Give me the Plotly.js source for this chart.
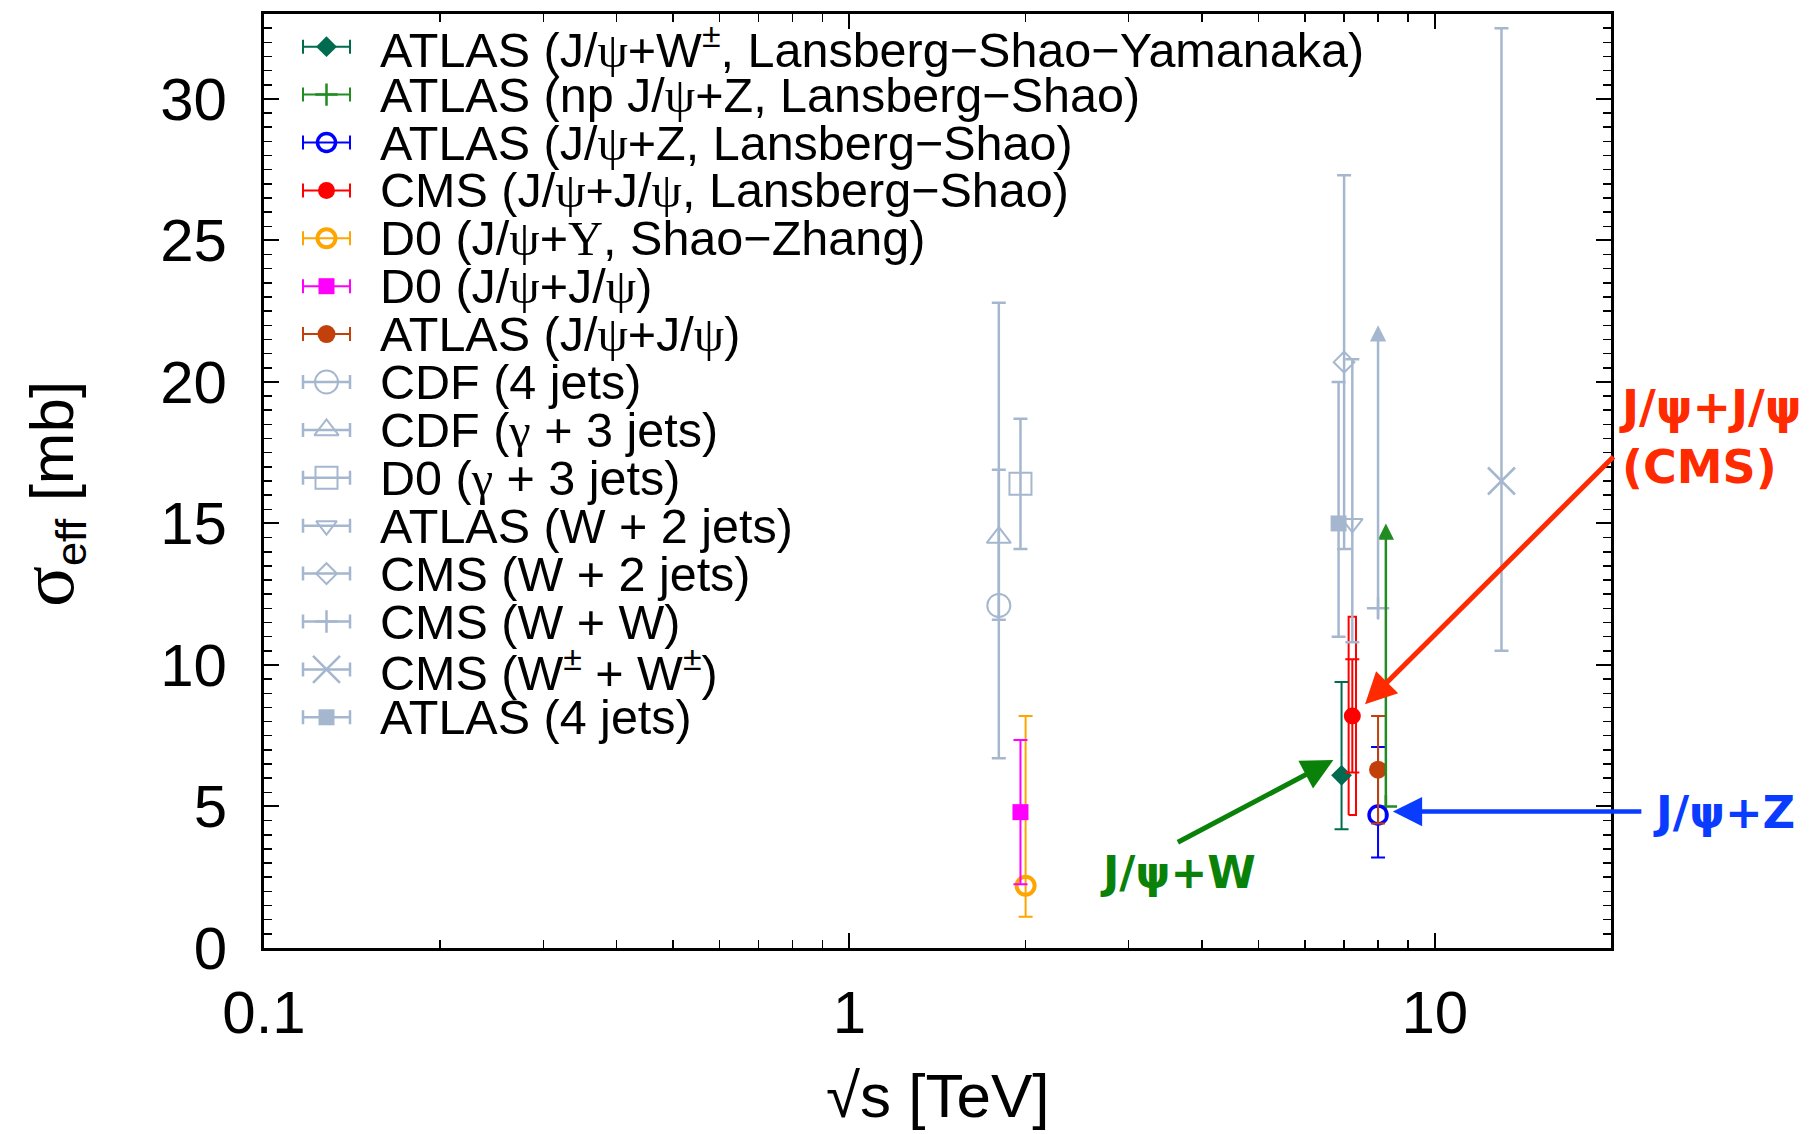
<!DOCTYPE html>
<html><head><meta charset="utf-8">
<script src="https://cdn.plot.ly/plotly-3.0.1.min.js"></script>
<style>html,body{margin:0;padding:0;background:#fff}#chart{width:1812px;height:1134px}</style>
</head><body><div id="chart"></div><script>
const PSI = '<span style="font-family:Liberation Serif">ψ</span>';
const GAM = '<span style="font-family:Liberation Serif">γ</span>';
const UPS = '<span style="font-family:Liberation Serif">Υ</span>';

// ---- data ----
const seriesNames = [
  `ATLAS (J/${PSI}+W<sup>±</sup>, Lansberg−Shao−Yamanaka)`,
  `ATLAS (np J/${PSI}+Z, Lansberg−Shao)`,
  `ATLAS (J/${PSI}+Z, Lansberg−Shao)`,
  `CMS (J/${PSI}+J/${PSI}, Lansberg−Shao)`,
  `D0 (J/${PSI}+${UPS}, Shao−Zhang)`,
  `D0 (J/${PSI}+J/${PSI})`,
  `ATLAS (J/${PSI}+J/${PSI})`,
  `CDF (4 jets)`,
  `CDF (${GAM} + 3 jets)`,
  `D0 (${GAM} + 3 jets)`,
  `ATLAS (W + 2 jets)`,
  `CMS (W + 2 jets)`,
  `CMS (W + W)`,
  `CMS (W<sup>±</sup> + W<sup>±</sup>)`,
  `ATLAS (4 jets)`
];
const sqrtS    = [6.93, 8.25, 8.0, 7.23, 2.0, 1.96, 8.0, 1.8, 1.8, 1.96, 7.23, 7.0, 8.0, 13.0, 6.85];
const sigmaEff = [6.1, 5.0, 4.7, 8.2, 2.2, 4.8, 6.3, 12.1, 14.5, 16.4, 15.0, 20.7, 12.0, 16.5, 15.0];
const errUp    = [3.3, 0, 2.4, 2.0, 6.0, 2.55, 1.9, 10.7, 2.4, 2.3, 5.8, 6.6, 0, 16.0, 5.0];
const errDown  = [1.9, 0, 1.5, 2.0, 1.1, 2.55, 1.9, 5.4, 2.9, 2.3, 4.2, 6.6, 0, 6.0, 4.0];
// lower limits drawn as arrows
const limitFrom = [null, 5.0, null, null, null, null, null, null, null, null, null, null, 11.6, null, null];
const limitTo   = [null, 15.0, null, null, null, null, null, null, null, null, null, null, 22.0, null, null];
// CMS J/psi+J/psi total uncertainty (box)
const cmsTotalErrUp = 3.5;
const cmsTotalErrDown = 3.5;
const cmsIndex = 3;

// callout labels
const calloutTexts = ['J/ψ+J/ψ<br>(CMS)', 'J/ψ+Z', 'J/ψ+W'];

// ---- styles ----
const GRAY = '#A5B7CF';
const colors = ['#006B4F', '#228B22', '#0000FF', '#FF0000', '#FFA500', '#FF00FF', '#C2410A',
  GRAY, GRAY, GRAY, GRAY, GRAY, GRAY, GRAY, GRAY];
const symbols = ['diamond', 'cross-thin-open', 'circle-open', 'circle', 'circle-open', 'square', 'circle',
  'circle-open', 'triangle-up-open', 'square-open', 'triangle-down-open', 'diamond-open', 'cross-thin-open', 'x-thin-open', 'square'];
const sizes = [16, 16, 18, 17, 18, 16, 18, 23, 21, 22, 18, 16, 16, 27, 16];
const mlw   = [0, 2.5, 3.5, 0, 4, 0, 0, 2, 2, 2, 2, 2, 2.5, 2.5, 0];
const ebw   = [2, 2, 2, 2, 2, 2, 2, 2.5, 2.5, 2.5, 2.5, 2.5, 2.5, 2.5, 2.5];

const traces = [];
const annotations = [];

// CMS box (total uncertainty)
{
  const xc = sqrtS[cmsIndex], yc = sigmaEff[cmsIndex];
  const f = Math.pow(10, 0.0063);
  const xl = xc / f, xr = xc * f;
  const lo = yc - cmsTotalErrDown, hi = yc + cmsTotalErrUp;
  traces.push({x: [xl, xr, xr, xl, xl], y: [lo, lo, hi, hi, lo], mode: 'lines', type: 'scatter',
    line: {color: colors[cmsIndex], width: 2}, showlegend: false, hoverinfo: 'skip'});
}

for (let i = 0; i < seriesNames.length; i++) {
  const hasErr = errUp[i] > 0 || errDown[i] > 0;
  traces.push({
    x: [sqrtS[i]], y: [sigmaEff[i]], type: 'scatter', mode: 'markers', name: seriesNames[i],
    showlegend: false,
    marker: {symbol: symbols[i], size: sizes[i], color: colors[i], line: {color: colors[i], width: mlw[i]}},
    error_y: hasErr ? {type: 'data', symmetric: false, array: [errUp[i]], arrayminus: [errDown[i]],
      color: colors[i], thickness: ebw[i], width: 7} : {visible: false}
  });
  if (limitFrom[i] !== null) {
    annotations.push({x: Math.log10(sqrtS[i]), y: limitTo[i], ax: Math.log10(sqrtS[i]), ay: limitFrom[i],
      xref: 'x', yref: 'y', axref: 'x', ayref: 'y', text: '', showarrow: true,
      arrowhead: 2, arrowsize: 1.3, arrowwidth: 2.5, arrowcolor: colors[i], standoff: 0, startstandoff: 0});
  }
}

// manual legend on an auxiliary overlay axis (0..1 units of the plot area)
const legX = 0.0464, legHalf = 0.01745, legTextX = 0.0846;
const rowTop = 46.7, rowStep = 47.9, plotTop = 14, plotH = 934;
for (let i = 0; i < seriesNames.length; i++) {
  const ypx = rowTop + rowStep * i;
  const yp = 1 - (ypx - plotTop) / plotH;
  traces.push({
    x: [legX], y: [yp], xaxis: 'x2', yaxis: 'y2', type: 'scatter', mode: 'markers', showlegend: false, hoverinfo: 'skip',
    marker: {symbol: symbols[i], size: sizes[i], color: colors[i], line: {color: colors[i], width: mlw[i]}},
    error_x: {type: 'data', symmetric: true, array: [legHalf], color: colors[i], thickness: ebw[i], width: 7}
  });
  annotations.push({xref: 'paper', yref: 'paper', x: legTextX, y: yp, xanchor: 'left', yanchor: 'middle',
    text: seriesNames[i], showarrow: false, font: {family: 'Liberation Sans, Arial, sans-serif', size: 48.5, color: '#000'}});
}

// callout arrows + labels
const calloutFont = 'DejaVu Sans, sans-serif';
annotations.push({x: Math.log10(7.6), y: 8.61, xref: 'x', yref: 'y', ax: 250, ay: -249, text: '', showarrow: true,
  arrowhead: 2, arrowsize: 1.25, arrowwidth: 5, arrowcolor: '#FF2A00', standoff: 0});
annotations.push({x: Math.log10(8.48), y: 4.82, xref: 'x', yref: 'y', ax: 250, ay: 0, text: '', showarrow: true,
  arrowhead: 2, arrowsize: 1.3, arrowwidth: 4.5, arrowcolor: '#0A3CFF', standoff: 0});
annotations.push({x: Math.log10(6.71), y: 6.64, xref: 'x', yref: 'y', ax: -157, ay: 83, text: '', showarrow: true,
  arrowhead: 2, arrowsize: 1.25, arrowwidth: 5, arrowcolor: '#0A820A', standoff: 0});

annotations.push({xref: 'paper', yref: 'paper', x: 1.0045, y: 0.5466, xanchor: 'left', yanchor: 'middle', align: 'left',
  text: '<b>' + calloutTexts[0] + '</b>', showarrow: false, font: {family: calloutFont, size: 46, color: '#FF2A00'}});
annotations.push({xref: 'paper', yref: 'paper', x: 1.0839, y: 0.1456, xanchor: 'center', yanchor: 'middle',
  text: '<b>' + calloutTexts[1] + '</b>', showarrow: false, font: {family: calloutFont, size: 45, color: '#0A3CFF'}});
annotations.push({xref: 'paper', yref: 'paper', x: 0.6782, y: 0.0803, xanchor: 'center', yanchor: 'middle',
  text: '<b>' + calloutTexts[2] + '</b>', showarrow: false, font: {family: calloutFont, size: 44, color: '#0A820A'}});

// axis titles
annotations.push({xref: 'paper', yref: 'paper', x: 0.5, y: -0.1584, xanchor: 'center', yanchor: 'middle',
  text: '√s [TeV]', showarrow: false, font: {family: 'Liberation Sans, Arial, sans-serif', size: 62, color: '#000'}});
annotations.push({xref: 'paper', yref: 'paper', x: -0.1589, y: 0.486, xanchor: 'center', yanchor: 'middle', textangle: -90,
  text: '<span style="font-family:Liberation Serif;font-size:76px">σ</span><sub>eff</sub> [mb]', showarrow: false,
  font: {family: 'Liberation Sans, Arial, sans-serif', size: 62, color: '#000'}});

const axisCommon = {showgrid: false, zeroline: false, showline: true, linecolor: '#000', linewidth: 3,
  mirror: 'allticks', ticks: 'inside', ticklen: 15, tickwidth: 2, tickcolor: '#000',
  tickfont: {family: 'Liberation Sans, Arial, sans-serif', size: 60, color: '#000'}};

const layout = {
  width: 1812, height: 1134,
  margin: {l: 264, r: 201, t: 14, b: 186},
  paper_bgcolor: '#fff', plot_bgcolor: '#fff',
  showlegend: false,
  xaxis: Object.assign({}, axisCommon, {type: 'log', range: [-1, Math.log10(20)], dtick: 1,
    ticklabelstandoff: 10,
    minor: {ticks: 'inside', ticklen: 8, tickwidth: 1.5, tickcolor: '#000', dtick: 'D1', showgrid: false}}),
  yaxis: Object.assign({}, axisCommon, {range: [0, 33], dtick: 5, tick0: 0, ticklabelstandoff: 22,
    minor: {ticks: 'inside', ticklen: 8, tickwidth: 1.5, tickcolor: '#000', dtick: 0.5, showgrid: false}}),
  xaxis2: {overlaying: 'x', range: [0, 1], visible: false, fixedrange: true},
  yaxis2: {overlaying: 'y', range: [0, 1], visible: false, fixedrange: true},
  annotations: annotations
};

Plotly.newPlot('chart', traces, layout, {staticPlot: true, displayModeBar: false});
</script></body></html>
